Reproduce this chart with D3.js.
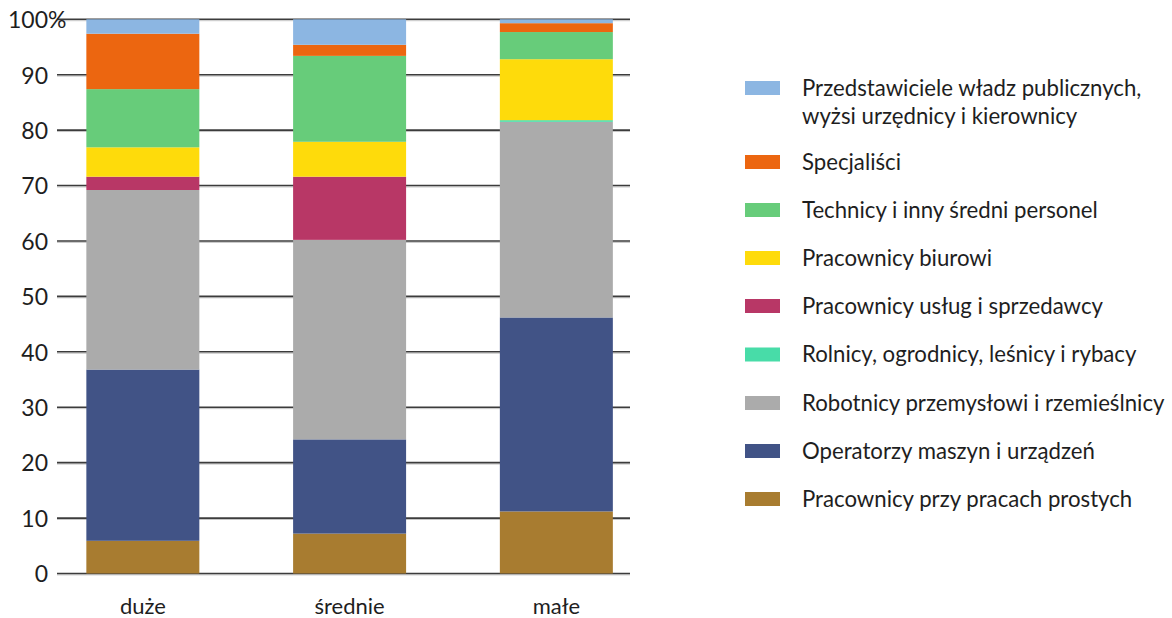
<!DOCTYPE html>
<html>
<head>
<meta charset="utf-8">
<script src="https://cdn.jsdelivr.net/npm/d3@7"></script>
<style>
  html, body { margin: 0; padding: 0; background: #ffffff; }
  svg text { font-family: Lato, "Open Sans", sans-serif; fill: #1e1e1e; }
</style>
</head>
<body>
<svg id="chart" width="1172" height="618"></svg>
<script>
// ---- data ----
const categories = ["duże", "średnie", "małe"];
const seriesNames = [
  "Pracownicy przy pracach prostych",
  "Operatorzy maszyn i urządzeń",
  "Robotnicy przemysłowi i rzemieślnicy",
  "Rolnicy, ogrodnicy, leśnicy i rybacy",
  "Pracownicy usług i sprzedawcy",
  "Pracownicy biurowi",
  "Technicy i inny średni personel",
  "Specjaliści",
  "Przedstawiciele władz publicznych, wyżsi urzędnicy i kierownicy"
];
const seriesColors = ["#a87c30", "#415386", "#ababab", "#48dca8", "#b83766", "#fedb0b", "#67cc7a", "#ec6610", "#8cb6e2"];
const valuesDuze    = [5.9, 30.9, 32.4, 0.0, 2.4, 5.3, 10.5, 10.0, 2.6];
const valuesSrednie = [7.2, 17.0, 36.0, 0.0, 11.4, 6.3, 15.5, 2.0, 4.6];
const valuesMale    = [11.2, 35.0, 35.3, 0.3, 0.0, 11.0, 4.9, 1.6, 0.7];
const yTicks = [0, 10, 20, 30, 40, 50, 60, 70, 80, 90, 100];
const legendLines = [
  ["Przedstawiciele władz publicznych,", "wyżsi urzędnicy i kierownicy"],
  ["Specjaliści"],
  ["Technicy i inny średni personel"],
  ["Pracownicy biurowi"],
  ["Pracownicy usług i sprzedawcy"],
  ["Rolnicy, ogrodnicy, leśnicy i rybacy"],
  ["Robotnicy przemysłowi i rzemieślnicy"],
  ["Operatorzy maszyn i urządzeń"],
  ["Pracownicy przy pracach prostych"]
];

// ---- build table ----
const valueRows = [valuesDuze, valuesSrednie, valuesMale];
const table = categories.map((c, i) => {
  const row = { cat: c };
  seriesNames.forEach((s, j) => row[s] = valueRows[i][j]);
  return row;
});
const stacked = d3.stack().keys(seriesNames)(table);

const svg = d3.select("#chart");

const x = d3.scaleBand().domain(categories).range([45.0, 654.2]).paddingInner(0.4535).paddingOuter(0.2);
const y = d3.scaleLinear().domain([0, 100]).range([573.5, 19.3]);
const color = d3.scaleOrdinal().domain(seriesNames).range(seriesColors);

const gridX0 = 57, gridX1 = 630;

// gridlines
const grid = svg.append("g");
grid.selectAll("line.shadow").data(yTicks).join("line")
  .attr("class", "shadow")
  .attr("x1", gridX0).attr("x2", gridX1)
  .attr("y1", d => y(d) + 1.4).attr("y2", d => y(d) + 1.4)
  .attr("stroke", "#c4c4c4").attr("stroke-width", 1);
grid.selectAll("line.main").data(yTicks).join("line")
  .attr("class", "main")
  .attr("x1", gridX0).attr("x2", gridX1)
  .attr("y1", d => y(d)).attr("y2", d => y(d))
  .attr("stroke", "#3c3c3c").attr("stroke-width", 1.6);

// bars
svg.append("g").selectAll("g").data(stacked).join("g")
  .attr("fill", d => color(d.key))
  .selectAll("rect").data(d => d).join("rect")
  .attr("x", d => x(d.data.cat))
  .attr("width", x.bandwidth())
  .attr("y", d => y(d[1]))
  .attr("height", d => Math.max(0, y(d[0]) - y(d[1])));

// y axis labels
const yAxis = d3.axisLeft(y).tickValues(yTicks).tickSize(0).tickPadding(0)
  .tickFormat(d => d);
const yg = svg.append("g").attr("transform", "translate(48,0)").call(yAxis);
yg.select(".domain").remove();
yg.selectAll("text")
  .attr("font-family", "Lato, 'Open Sans', sans-serif")
  .attr("font-size", 23).attr("fill", "#1e1e1e")
  .attr("dy", "0.36em");
yg.selectAll(".tick").filter(d => d === 100).append("text")
  .text("%")
  .attr("x", 0).attr("text-anchor", "start").attr("dy", "0.36em")
  .attr("font-family", "Lato, 'Open Sans', sans-serif")
  .attr("font-size", 23).attr("fill", "#1e1e1e");

// x axis labels
const xAxis = d3.axisBottom(x).tickSize(0).tickPadding(0);
const xg = svg.append("g").attr("transform", "translate(0,614)").call(xAxis);
xg.select(".domain").remove();
xg.selectAll("text")
  .attr("font-family", "Lato, 'Open Sans', sans-serif")
  .attr("font-size", 22).attr("fill", "#1e1e1e")
  .attr("dy", 0).attr("y", 0);

// legend
const legendRowY = [88, 162, 210, 258, 306, 354.5, 403, 451, 499];
const legendColorsTopDown = seriesColors.slice().reverse();
const lg = svg.append("g");
legendLines.forEach((lines, i) => {
  const cy = legendRowY[i];
  lg.append("rect").attr("x", 745).attr("y", cy - 7).attr("width", 35).attr("height", 14)
    .attr("fill", legendColorsTopDown[i]);
  lines.forEach((t, k) => {
    lg.append("text").attr("x", 802).attr("y", cy + k * 28.5)
      .attr("dy", "0.35em").attr("font-size", 22.2).text(t);
  });
});
</script>
</body>
</html>
